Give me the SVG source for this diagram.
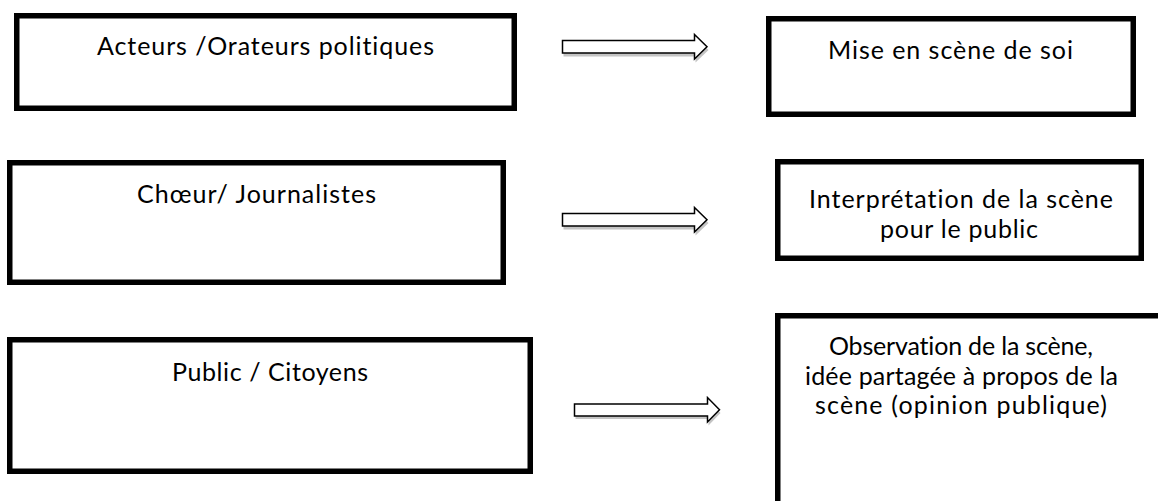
<svg xmlns="http://www.w3.org/2000/svg" width="1158" height="501" viewBox="0 0 1158 501">
<style>
.box{fill:#fff;stroke:#000;stroke-width:5.5}
.t{font-family:Lato,"Open Sans","Liberation Sans",sans-serif;font-size:25px;fill:#000;text-anchor:middle;font-variant-ligatures:none}
.arr{fill:#fff;stroke:#000;stroke-width:1.5;stroke-linejoin:miter}
.sh{fill:#c4c4c4;stroke:none}
</style>
<rect width="1158" height="501" fill="#fff"/>
<g id="connectors">
  <g id="arrow1">
    <polygon class="sh" points="563.5,43.5 695.5,43.5 695.5,37.5 708.5,50 695.5,62.5 695.5,56.5 563.5,56.5"/>
    <polygon class="arr" points="562.5,40.5 694.5,40.5 694.5,34.5 707,46.75 694.5,59 694.5,53 562.5,53"/>
  </g>
  <g id="arrow2">
    <polygon class="sh" points="563.5,216.5 695.5,216.5 695.5,210.5 708.5,223 695.5,235.5 695.5,229.5 563.5,229.5"/>
    <polygon class="arr" points="562.5,213.5 694.5,213.5 694.5,207.5 707,219.75 694.5,232 694.5,226 562.5,226"/>
  </g>
  <g id="arrow3">
    <polygon class="sh" points="575.5,407 708.5,407 708.5,400.5 720.5,413 708.5,425.5 708.5,419 575.5,419"/>
    <polygon class="arr" points="574.5,404 707.5,404 707.5,397.5 719.5,409.75 707.5,422 707.5,416 574.5,416"/>
  </g>
</g>
<g id="node-acteurs">
  <rect class="box" x="16.75" y="15.75" width="497.5" height="92.5"/>
  <text class="t" x="265.5" y="55" textLength="337" lengthAdjust="spacing">Acteurs /Orateurs politiques</text>
</g>
<g id="node-choeur">
  <rect class="box" x="9.75" y="162.75" width="493.5" height="119.5"/>
  <text class="t" x="256.5" y="203" textLength="239" lengthAdjust="spacing">Chœur/ Journalistes</text>
</g>
<g id="node-public">
  <rect class="box" x="9.75" y="339.75" width="520.5" height="131.5"/>
  <text class="t" x="270" y="381" textLength="196" lengthAdjust="spacing">Public / Citoyens</text>
</g>
<g id="node-mise">
  <rect class="box" x="768.75" y="18.75" width="364.5" height="95.5"/>
  <text class="t" x="950.5" y="59" textLength="245" lengthAdjust="spacing">Mise en scène de soi</text>
</g>
<g id="node-interpretation">
  <rect class="box" x="777.75" y="161.75" width="363.5" height="96.5"/>
  <text class="t" x="961" y="208" textLength="304" lengthAdjust="spacing">Interprétation de la scène</text>
  <text class="t" x="959" y="237.5" textLength="158" lengthAdjust="spacing">pour le public</text>
</g>
<g id="node-observation">
  <rect class="box" x="777.75" y="315.75" width="420" height="300"/>
  <text class="t" x="961" y="355" textLength="264" lengthAdjust="spacing">Observation de la scène,</text>
  <text class="t" x="961.5" y="384.5" textLength="313" lengthAdjust="spacing">idée partagée à propos de la</text>
  <text class="t" x="961" y="414" textLength="292" lengthAdjust="spacing">scène (opinion publique)</text>
</g>
</svg>
